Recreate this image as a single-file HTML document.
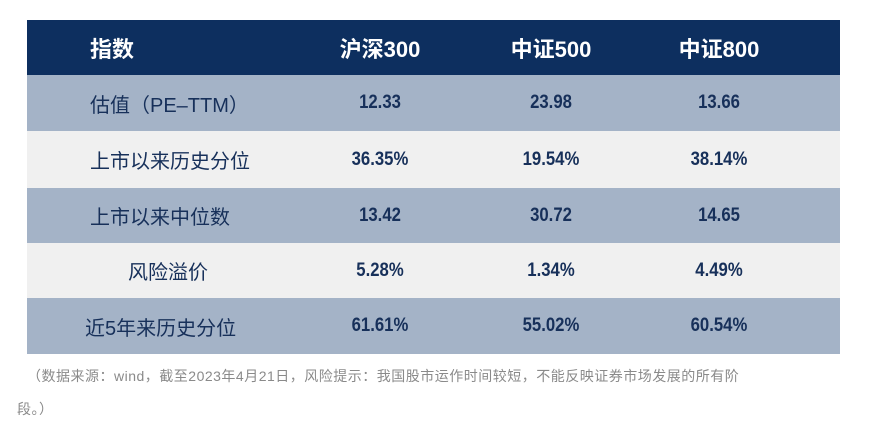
<!DOCTYPE html>
<html><head><meta charset="utf-8">
<style>
body{margin:0;width:871px;height:433px;background:#fff;position:relative;overflow:hidden;font-family:"Liberation Sans","Noto Sans CJK SC",sans-serif;}
.row{position:absolute;left:27px;width:813px;}
.c{position:absolute;top:0;height:100%;display:flex;align-items:center;white-space:nowrap;}
.num{font-family:"Liberation Sans Narrow","Liberation Sans",sans-serif;transform:scaleX(0.88);font-size:19px;color:#17305a;font-weight:bold;justify-content:center;width:160px;}
.lab{font-size:20px;color:#17305a;}
.hd{color:#fff;font-weight:bold;font-size:22px;justify-content:center;width:160px;}
.cap{position:absolute;font-size:14px;color:#8a8a8a;white-space:nowrap;letter-spacing:0.5px;}
</style></head><body>
<div>
<div class="row" style="top:20px;height:55px;background:#0d2f5f;">
 <div class="c" style="left:63px;color:#fff;font-weight:bold;font-size:22px;">指数</div>
 <div class="c hd" style="left:273px;">沪深300</div>
 <div class="c hd" style="left:444px;">中证500</div>
 <div class="c hd" style="left:612px;">中证800</div>
</div>
<div class="row" style="top:75px;height:56px;background:#a4b3c7;">
 <div class="c lab" style="left:63px;">估值（PE–TTM）</div>
 <div class="c num" style="left:273px;">12.33</div>
 <div class="c num" style="left:444px;">23.98</div>
 <div class="c num" style="left:612px;">13.66</div>
</div>
<div class="row" style="top:131px;height:57px;background:#f0f0f0;">
 <div class="c lab" style="left:63px;">上市以来历史分位</div>
 <div class="c num" style="left:273px;">36.35%</div>
 <div class="c num" style="left:444px;">19.54%</div>
 <div class="c num" style="left:612px;">38.14%</div>
</div>
<div class="row" style="top:188px;height:55px;background:#a4b3c7;">
 <div class="c lab" style="left:63px;">上市以来中位数</div>
 <div class="c num" style="left:273px;">13.42</div>
 <div class="c num" style="left:444px;">30.72</div>
 <div class="c num" style="left:612px;">14.65</div>
</div>
<div class="row" style="top:243px;height:55px;background:#f0f0f0;">
 <div class="c lab" style="left:101px;">风险溢价</div>
 <div class="c num" style="left:273px;">5.28%</div>
 <div class="c num" style="left:444px;">1.34%</div>
 <div class="c num" style="left:612px;">4.49%</div>
</div>
<div class="row" style="top:298px;height:56px;background:#a4b3c7;">
 <div class="c lab" style="left:58px;">近5年来历史分位</div>
 <div class="c num" style="left:273px;">61.61%</div>
 <div class="c num" style="left:444px;">55.02%</div>
 <div class="c num" style="left:612px;">60.54%</div>
</div>
</div>
<div class="cap" style="left:27px;top:366px;">（数据来源：wind，截至2023年4月21日，风险提示：我国股市运作时间较短，不能反映证券市场发展的所有阶</div>
<div class="cap" style="left:17px;top:399px;">段。）</div>
</body></html>
